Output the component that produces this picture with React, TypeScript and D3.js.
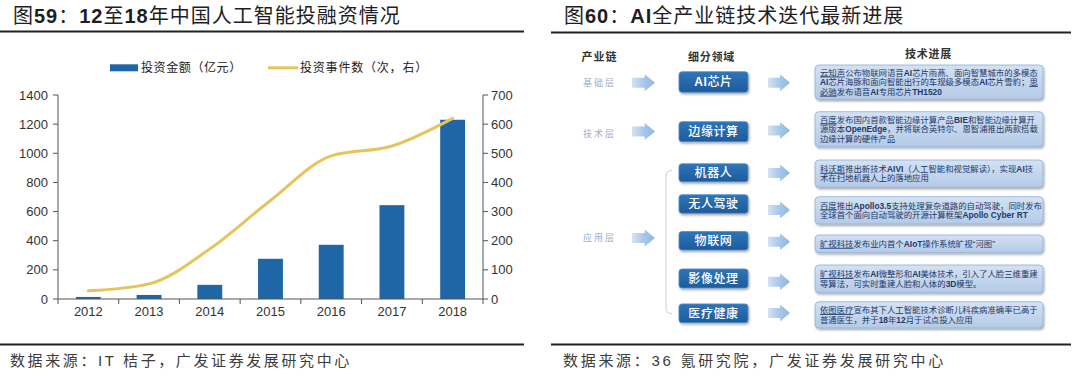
import React from 'react';
import * as d3 from 'd3';

// ---------------- data ----------------
const years = ['2012', '2013', '2014', '2015', '2016', '2017', '2018'];
const investAmount = [14, 28, 97, 276, 372, 644, 1230];
const investEvents = [28, 52, 172, 338, 491, 525, 620];
const leftTicks = [0, 200, 400, 600, 800, 1000, 1200, 1400];
const rightTicks = [0, 100, 200, 300, 400, 500, 600, 700];
const legendNames = ['投资金额（亿元）', '投资事件数（次，右）'];

const leftTitle = '图59：12至18年中国人工智能投融资情况';
const leftSource = '数据来源：IT 桔子，广发证券发展研究中心';
const rightTitle = '图60：AI全产业链技术迭代最新进展';
const rightSource = '数据来源：36 氪研究院，广发证券发展研究中心';

const chainHeaders = ['产业链', '细分领域', '技术进展'];
const layers = ['基础层', '技术层', '应用层'];
const segments = ['AI芯片', '边缘计算', '机器人', '无人驾驶', '物联网', '影像处理', '医疗健康'];
const progress = [
  ['_云知声_公布物联网语音AI芯片雨燕、面向智慧城市的多模态', 'AI芯片海豚和面向智能出行的车规级多模态AI芯片雪豹；_思_', '_必驰_发布语音AI专用芯片TH1520'],
  ['_百度_发布国内首款智能边缘计算产品BIE和智能边缘计算开', '源版本OpenEdge，并将联合英特尔、恩智浦推出两款搭载', '边缘计算的硬件产品'],
  ['_科沃斯_推出新技术AIVI（人工智能和视觉解读），实现AI技', '术在扫地机器人上的落地应用'],
  ['_百度_推出Apollo3.5支持处理复杂道路的自动驾驶，同时发布', '全球首个面向自动驾驶的开源计算框架Apollo Cyber RT'],
  ['_旷视科技_发布业内首个AIoT操作系统旷视“河图”'],
  ['_旷视科技_发布AI微整形和AI美体技术，引入了人脸三维重建', '等算法，可实时重建人脸和人体的3D模型。'],
  ['_依图医疗_宣布其下人工智能技术诊断儿科疾病准确率已高于', '普通医生，并于18年12月于试点投入应用'],
];

// ---------------- helpers ----------------
const LAT = '"Liberation Sans", Arial, "Noto Sans CJK SC", sans-serif';
const CJK = '"Noto Sans CJK SC", "Liberation Sans", sans-serif';

type Run = { t: string; u: boolean; latin: boolean };
function toRuns(line: string): Run[] {
  const out: Run[] = [];
  line.split('_').forEach((p, i) => {
    const re = /([A-Za-z0-9.\s]+)|([^A-Za-z0-9.\s]+)/g;
    let m: RegExpExecArray | null;
    while ((m = re.exec(p))) out.push({ t: m[0], u: i % 2 === 1, latin: !!m[1] });
  });
  return out;
}

function RichText(props: {
  x: number; y: number; text: string; size: number; color: string; ls?: number;
  boldLatin?: boolean; cjkWeight?: number; anchor?: 'start' | 'middle' | 'end';
}) {
  const { x, y, text, size, color, ls = 0, boldLatin = true, cjkWeight = 400, anchor = 'start' } = props;
  return (
    <text x={x} y={y} fontSize={size} fill={color} fontFamily={LAT} letterSpacing={ls} textAnchor={anchor} style={{ whiteSpace: 'pre' }}>
      {toRuns(text).map((r, i) => (
        <tspan key={i} fontWeight={r.latin && boldLatin ? 700 : cjkWeight} textDecoration={r.u ? 'underline' : undefined}>
          {r.t}
        </tspan>
      ))}
    </text>
  );
}

function Arrow({ x, y, w, id }: { x: number; y: number; w: number; id: string }) {
  const body = w * 0.55;
  const pts = [
    [x, y - 5], [x + body, y - 5], [x + body, y - 8.5], [x + w, y], [x + body, y + 8.5], [x + body, y + 5], [x, y + 5],
  ];
  return <polygon points={pts.map((p) => p.join(',')).join(' ')} fill={`url(#${id})`} />;
}

export default function App() {
  // ---------------- left chart scales ----------------
  const x = d3.scaleBand<string>().domain(years).range([58, 483]).paddingInner(0.59).paddingOuter(0.295);
  const yL = d3.scaleLinear().domain([0, 1400]).range([299, 95]);
  const yR = d3.scaleLinear().domain([0, 700]).range([299, 95]);
  const cx = (i: number) => (x(years[i]) as number) + x.bandwidth() / 2;
  const linePath = d3
    .line<number>()
    .x((_, i) => cx(i))
    .y((d) => yR(d))
    .curve(d3.curveMonotoneX)(investEvents) as string;
  const step = x.step();
  const boundaries = years.map((_, i) => cx(i) - step / 2).concat([cx(years.length - 1) + step / 2]);

  // ---------------- right diagram layout ----------------
  const layerY = [82.7, 134, 237.5];
  const layerArrowY = [82.7, 131.5, 238];
  const segY = [82, 131.7, 172.8, 204, 240.8, 278.5, 313.3];
  const segH = [20.5, 20, 18, 18.5, 18.5, 19, 18.7];
  const segArrowY = [82.7, 130.5, 173, 210, 241.7, 281.7, 313];
  const progBox = [
    [65, 99.3], [111.7, 146.7], [160, 187.3], [196.7, 224], [235, 252.7], [265, 292.7], [301.7, 328],
  ];
  const lineGap = 9.6;

  return (
    <svg width={1080} height={377} style={{ position: 'absolute', left: 0, top: 0, background: '#fff' }}>
      <defs>
        <linearGradient id="arrowG" x1="0" x2="1" y1="0" y2="0">
          <stop offset="0" stopColor="#d3e3f4" />
          <stop offset="0.5" stopColor="#a9c8e9" />
          <stop offset="1" stopColor="#8fb6e1" />
        </linearGradient>
        <linearGradient id="segG" x1="0" x2="0" y1="0" y2="1">
          <stop offset="0" stopColor="#2f74b8" />
          <stop offset="1" stopColor="#1d5c9c" />
        </linearGradient>
        <linearGradient id="progG" x1="0" x2="0" y1="0" y2="1">
          <stop offset="0" stopColor="#d4e2f3" />
          <stop offset="1" stopColor="#b3cae7" />
        </linearGradient>
        <filter id="shadow" x="-10%" y="-30%" width="120%" height="170%">
          <feDropShadow dx="1" dy="1.6" stdDeviation="1.1" floodColor="#000" floodOpacity="0.35" />
        </filter>
      </defs>

      {/* ================= LEFT PANEL ================= */}
      <RichText x={13} y={23} text={leftTitle} size={20} color="#1d1d26" ls={1} />
      <line x1={0} x2={524} y1={31.5} y2={31.5} stroke="#222" strokeWidth={1.8} />

      {/* legend */}
      <rect x={110} y={64.3} width={28} height={7} fill="#1f66a6" />
      <text x={141} y={72} fontSize={12} fontFamily={CJK} fill="#222" letterSpacing={0.6}>{legendNames[0]}</text>
      <line x1={268} x2={298} y1={67.8} y2={67.8} stroke="#e5c55b" strokeWidth={3} />
      <text x={300} y={72} fontSize={12} fontFamily={CJK} fill="#222" letterSpacing={0.8}>{legendNames[1]}</text>

      {/* bars */}
      {investAmount.map((v, i) => (
        <rect key={years[i]} x={x(years[i])} y={yL(v)} width={x.bandwidth()} height={yL(0) - yL(v)} fill="#1f66a6" />
      ))}
      {/* line */}
      <path d={linePath} fill="none" stroke="#e5c55b" strokeWidth={3} strokeLinecap="round" />

      {/* left axis */}
      <line x1={58} x2={58} y1={yL(1400)} y2={yL(0)} stroke="#555" strokeWidth={1} />
      {leftTicks.map((t) => (
        <g key={'l' + t}>
          <line x1={53} x2={58} y1={yL(t)} y2={yL(t)} stroke="#555" />
          <text x={48} y={yL(t) + 4.5} textAnchor="end" fontSize={13} fontFamily={LAT} fill="#333">{t}</text>
        </g>
      ))}
      {/* right axis */}
      <line x1={483} x2={483} y1={yR(700)} y2={yR(0)} stroke="#555" strokeWidth={1} />
      {rightTicks.map((t) => (
        <g key={'r' + t}>
          <line x1={483} x2={488} y1={yR(t)} y2={yR(t)} stroke="#555" />
          <text x={491} y={yR(t) + 4.5} textAnchor="start" fontSize={13} fontFamily={LAT} fill="#333">{t}</text>
        </g>
      ))}
      {/* x axis */}
      <line x1={58} x2={483} y1={yL(0)} y2={yL(0)} stroke="#555" />
      {boundaries.map((b, i) => (
        <line key={'b' + i} x1={b} x2={b} y1={yL(0)} y2={yL(0) + 5} stroke="#555" />
      ))}
      {years.map((yv, i) => (
        <text key={'x' + yv} x={cx(i)} y={316} textAnchor="middle" fontSize={13} fontFamily={LAT} fill="#333">{yv}</text>
      ))}

      <line x1={0} x2={524} y1={344.5} y2={344.5} stroke="#222" strokeWidth={1.8} />
      <RichText x={10} y={366} text={leftSource} size={15} color="#3c3c3c" ls={2.6} boldLatin={false} />

      {/* ================= RIGHT PANEL ================= */}
      <RichText x={564} y={23} text={rightTitle} size={20} color="#1d1d26" ls={1} />
      <line x1={551} x2={1071} y1={32.5} y2={32.5} stroke="#222" strokeWidth={1.8} />

      {/* headers */}
      <text x={599.5} y={60.5} textAnchor="middle" fontSize={11} fontWeight={700} fontFamily={CJK} fill="#333" letterSpacing={1}>{chainHeaders[0]}</text>
      <text x={711.5} y={60.5} textAnchor="middle" fontSize={11} fontWeight={700} fontFamily={CJK} fill="#333" letterSpacing={0.8}>{chainHeaders[1]}</text>
      <text x={928.5} y={57.5} textAnchor="middle" fontSize={11} fontWeight={700} fontFamily={CJK} fill="#333" letterSpacing={0.8}>{chainHeaders[2]}</text>

      {/* layers */}
      {layers.map((l, i) => (
        <g key={l}>
          <text x={599.5} y={layerY[i] + 3.2} textAnchor="middle" fontSize={9} fontFamily={CJK} fill="#9eacc9" letterSpacing={2}>{l}</text>
          <Arrow x={632} y={layerArrowY[i]} w={23} id="arrowG" />
        </g>
      ))}

      {/* bracket */}
      <path d="M672,170.5 Q666,170.5 666,176 L666,308 Q666,313.5 672,313.5" fill="none" stroke="#cfcfcf" strokeWidth={1} />

      {/* segment boxes */}
      {segments.map((s, i) => (
        <g key={s}>
          <rect x={679} y={segY[i] - segH[i] / 2} width={69} height={segH[i]} rx={3} fill="url(#segG)" stroke="#4f8bc8" strokeWidth={0.8} filter="url(#shadow)" />
          <RichText x={713.5} y={segY[i] + 4.3} text={s} size={12} color="#fff" ls={0.6} cjkWeight={500} anchor="middle" />
          <Arrow x={768} y={segArrowY[i]} w={22} id="arrowG" />
        </g>
      ))}

      {/* progress boxes */}
      {progress.map((lines, i) => {
        const [y0, y1] = progBox[i];
        const mid = (y0 + y1) / 2;
        const first = mid - ((lines.length - 1) * lineGap) / 2;
        return (
          <g key={'p' + i}>
            <rect x={815} y={y0} width={228} height={y1 - y0} rx={4} fill="url(#progG)" stroke="#8fb0d8" strokeWidth={0.8} filter="url(#shadow)" />
            {lines.map((ln, j) => (
              <RichText key={j} x={820} y={first + j * lineGap + 3} text={ln} size={8.4} color="#1f3868" />
            ))}
          </g>
        );
      })}

      <line x1={551} x2={1071} y1={344.5} y2={344.5} stroke="#222" strokeWidth={1.8} />
      <RichText x={563} y={366} text={rightSource} size={15} color="#3c3c3c" ls={2.7} boldLatin={false} />
    </svg>
  );
}
